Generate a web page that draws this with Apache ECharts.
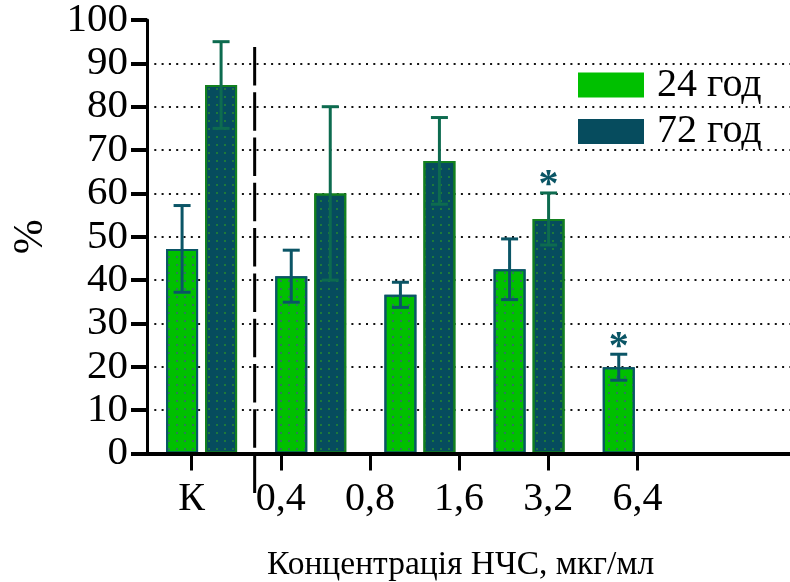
<!DOCTYPE html>
<html><head><meta charset="utf-8">
<script src="https://cdn.jsdelivr.net/npm/echarts@6/dist/echarts.min.js"></script>
<style>html,body{margin:0;padding:0;background:#fff}#c{width:790px;height:582px}</style>
</head><body><div id="c"></div>
<script>
// ---- data ----
const barCategories = ['К', '0,4', '0,8', '1,6', '3,2', '6,4'];
const tickLabels = ['К', '0,4', '0,8', '1,6', '3,2', '6,4'];
const seriesNames = ['24 год', '72 год'];
const mean24 = [47.2, 40.9, 36.6, 42.5, 19.9, null];
const err24 = [10.0, 6.0, 2.9, 7.0, 3.0, null];
const mean72 = [85.0, 60.0, 67.5, 54.1, null, null];
const err72 = [10.0, 20.0, 10.0, 6.0, null, null];
const sig24 = [0, 0, 0, 0, 1, 0];
const sig72 = [0, 0, 0, 1, 0, 0];
const yMin = 0, yMax = 100, yStep = 10;

// ---- style constants ----
const FONT = 'Liberation Serif';
const BAR_W = 32, BAR_GAP = 7;
const GREEN = '#00C000', DARK = '#064C5E';
const ERR24 = '#0B5566', ERR72 = '#0D6B4F';
const SEP_TOP = 93.8, SEP_BOTTOM = -9.1;

function errData(means, errs, sig) {
  const out = [];
  means.forEach((m, i) => { if (m != null && errs[i] != null) out.push([i, m, errs[i], sig[i]]); });
  return out;
}
function errRenderer(offset, color) {
  return function (params, api) {
    const i = api.value(0), m = api.value(1), e = api.value(2), s = api.value(3);
    const x = api.coord([i, m])[0] + offset;
    const yt = api.coord([i, m + e])[1], yb = api.coord([i, m - e])[1];
    const hw = 8.5;
    const children = [
      {type: 'line', shape: {x1: x, y1: yt, x2: x, y2: yb}, style: {stroke: color, lineWidth: 3}},
      {type: 'line', shape: {x1: x - hw, y1: yt, x2: x + hw, y2: yt}, style: {stroke: color, lineWidth: 3}},
      {type: 'line', shape: {x1: x - hw, y1: yb, x2: x + hw, y2: yb}, style: {stroke: color, lineWidth: 3}}
    ];
    if (s) children.push({type: 'text', x: x, y: yt - 7,
      style: {text: '*', fill: '#0A5565', font: 'bold 40px "' + FONT + '"', align: 'center', verticalAlign: 'middle'}});
    return {type: 'group', children: children};
  };
}
const offs = (BAR_W + BAR_GAP) / 2;

const chart = echarts.init(document.getElementById('c'), null, {renderer: 'canvas'});
chart.setOption({
  animation: false,
  backgroundColor: '#fff',
  grid: [
    {left: 147, right: -12, top: 20, bottom: 128.5, outerBoundsMode: 'none', containLabel: false},
    {left: 147, right: 108, top: 20, bottom: 128.5, outerBoundsMode: 'none', containLabel: false}
  ],
  title: {
    text: 'Концентрація НЧС, мкг/мл', left: 262, top: 543,
    textStyle: {fontFamily: FONT, fontSize: 33.5, fontWeight: 'normal', color: '#000'}
  },
  legend: {
    orient: 'vertical', left: 578, top: 65, itemWidth: 66, itemHeight: 25, itemGap: 6.5, icon: 'rect',
    padding: 0,
    textStyle: {fontFamily: FONT, fontSize: 40, lineHeight: 40, color: '#000', padding: [0, 0, 0, 8]},
    data: [
      {name: seriesNames[0], itemStyle: {color: GREEN, borderWidth: 0, decal: 'none'}},
      {name: seriesNames[1], itemStyle: {color: DARK, borderWidth: 0, decal: 'none'}}
    ]
  },
  xAxis: [
    {type: 'category', gridIndex: 0, data: barCategories, z: 10,
      axisLine: {show: true, lineStyle: {color: '#000', width: 4}},
      axisTick: {show: false}, axisLabel: {show: false}, splitLine: {show: false}},
    {type: 'category', gridIndex: 1, data: tickLabels,
      axisLine: {show: false},
      axisTick: {show: true, alignWithLabel: true, length: 17, lineStyle: {color: '#000', width: 3}},
      axisLabel: {color: '#000', fontFamily: FONT, fontSize: 40, margin: 26},
      splitLine: {show: false}}
  ],
  yAxis: [
    {type: 'value', gridIndex: 0, min: yMin, max: yMax, interval: yStep,
      axisLine: {show: true, lineStyle: {color: '#000', width: 3}},
      axisTick: {show: true, inside: false, length: 16, lineStyle: {color: '#000', width: 4}},
      axisLabel: {color: '#000', fontFamily: FONT, fontSize: 41, margin: 19},
      splitLine: {show: true, showMinLine: false, showMaxLine: false,
        lineStyle: {color: '#111', width: 2, type: [2, 5.3]}},
      name: '%', nameLocation: 'middle', nameRotate: 90, nameGap: 95, nameMoveOverlap: false,
      nameTextStyle: {fontFamily: FONT, fontSize: 42, color: '#000'}},
    {type: 'value', gridIndex: 1, min: yMin, max: yMax, show: false}
  ],
  series: [
    {name: seriesNames[0], type: 'bar', xAxisIndex: 0, yAxisIndex: 0, data: mean24,
      barWidth: BAR_W, barGap: (BAR_GAP / BAR_W * 100) + '%',
      itemStyle: {color: GREEN, borderColor: '#0B5566', borderWidth: 2,
        decal: {symbol: 'rect', symbolSize: 1, dashArrayX: [2, 6], dashArrayY: [2, 6], color: '#2C7A55'}}},
    {name: seriesNames[1], type: 'bar', xAxisIndex: 0, yAxisIndex: 0, data: mean72,
      barWidth: BAR_W,
      itemStyle: {color: DARK, borderColor: '#13801F', borderWidth: 2,
        decal: {symbol: 'rect', symbolSize: 1, dashArrayX: [2, 6], dashArrayY: [2, 6], color: '#1D7A3A'}}},
    {type: 'custom', xAxisIndex: 0, yAxisIndex: 0, z: 5, clip: false,
      data: errData(mean24, err24, sig24), renderItem: errRenderer(-offs, ERR24)},
    {type: 'custom', xAxisIndex: 0, yAxisIndex: 0, z: 5, clip: false,
      data: errData(mean72, err72, sig72), renderItem: errRenderer(offs, ERR72)},
    {type: 'custom', xAxisIndex: 0, yAxisIndex: 0, z: 6, clip: false, data: [[0, 0]],
      renderItem: function (params, api) {
        const bw = api.size([1, 0])[0];
        const x = api.coord([0, 0])[0] + bw / 2 - 1.5;
        const y1 = api.coord([0, SEP_TOP])[1], y2 = api.coord([0, SEP_BOTTOM])[1];
        return {type: 'line', shape: {x1: x, y1: y1, x2: x, y2: y2},
          style: {stroke: '#000', lineWidth: 3, lineDash: [38.5, 6.8]}};
      }}
  ]
});
</script></body></html>
